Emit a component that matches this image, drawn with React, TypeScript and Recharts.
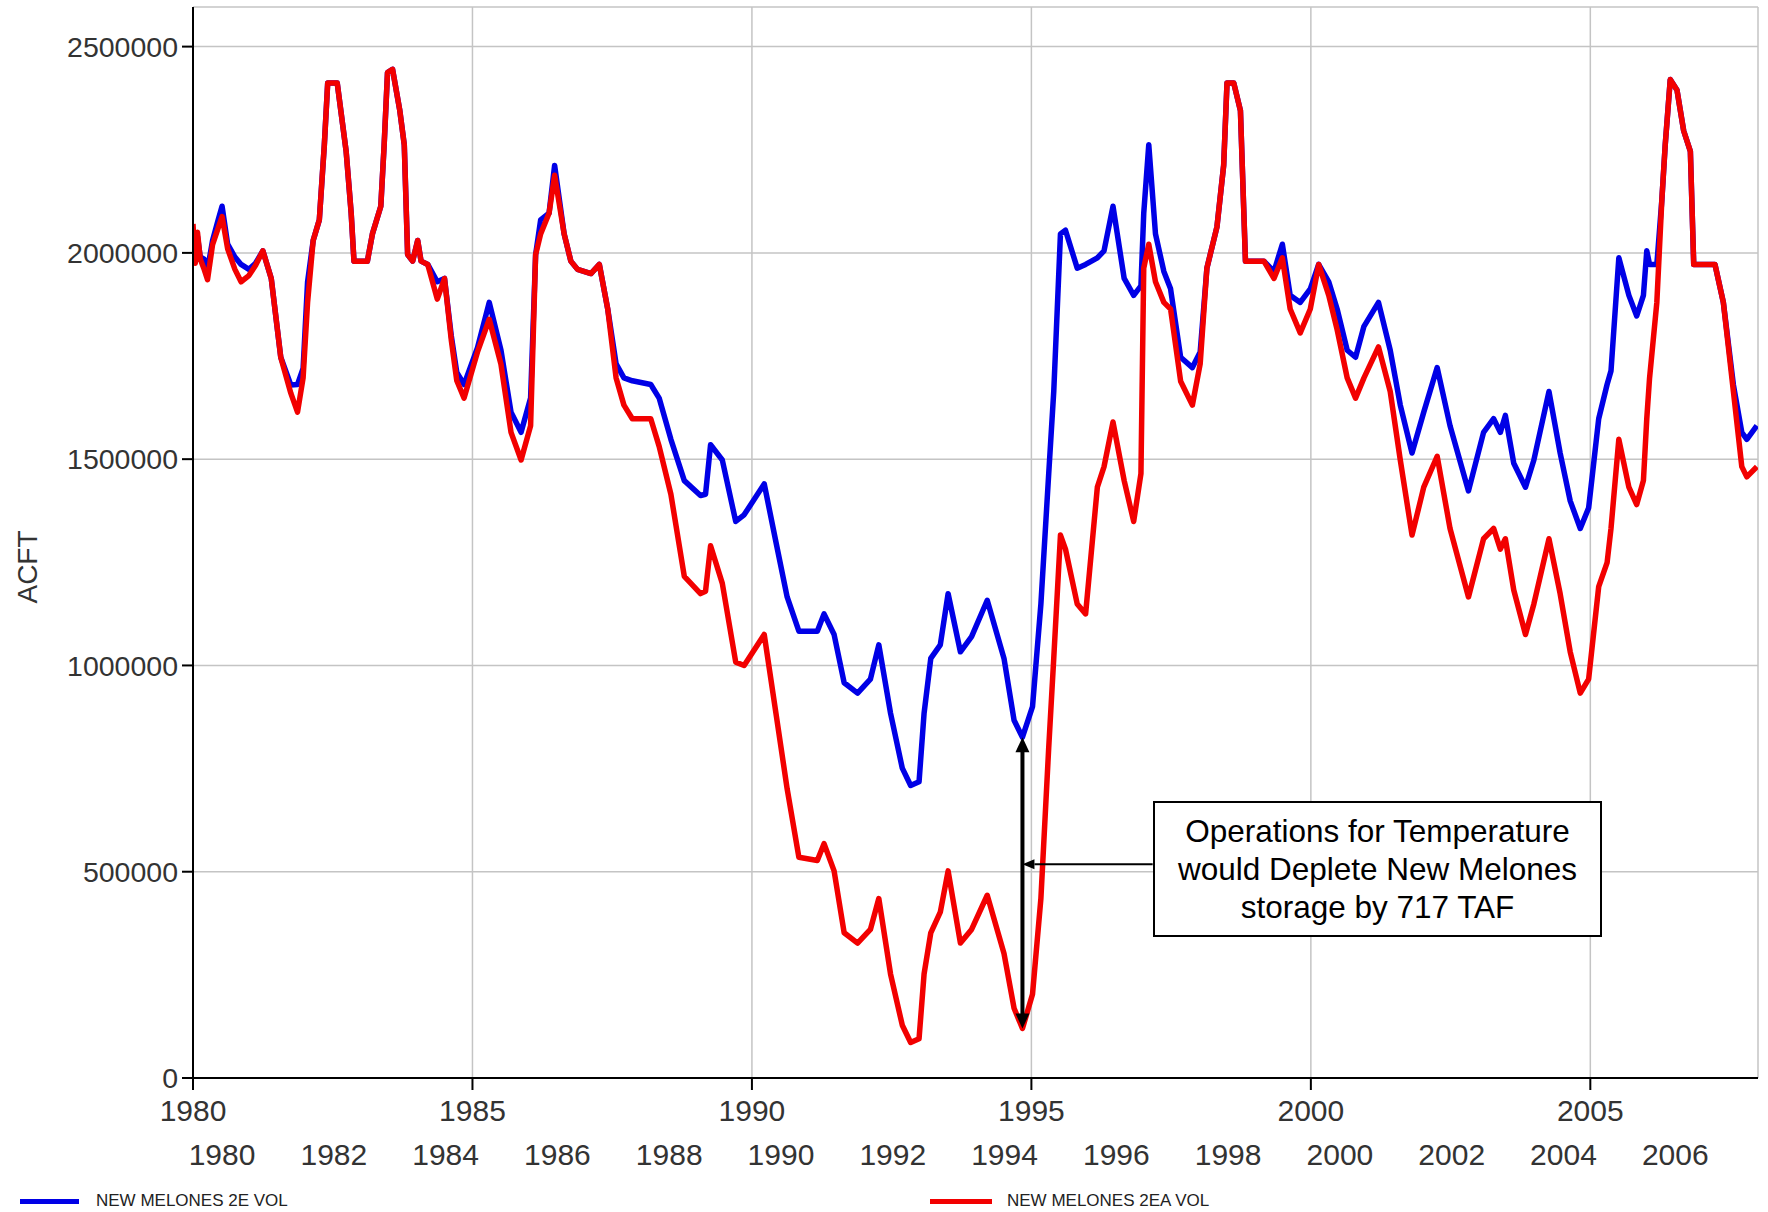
import React from 'react';
import { LineChart, Line, XAxis, YAxis, CartesianGrid, ReferenceLine, Label } from 'recharts';

const W = 1768;
const H = 1212;

const SERIES_NAMES = ['NEW MELONES 2E VOL', 'NEW MELONES 2EA VOL'];
const MAJOR_YEARS = [1980, 1985, 1990, 1995, 2000, 2005];
const LABEL_YEARS = [1980, 1982, 1984, 1986, 1988, 1990, 1992, 1994, 1996, 1998, 2000, 2002, 2004, 2006];
const LABEL_SHIFT = 0.52;
const Y_TICKS = [0, 500000, 1000000, 1500000, 2000000, 2500000];
const Y_MAX = 2596000;

const YEARS = [
  1980.0, 1980.04, 1980.08, 1980.13, 1980.2, 1980.26, 1980.35, 1980.45, 1980.52, 1980.62, 1980.75, 1980.86,
  1981.0, 1981.12, 1981.25, 1981.4, 1981.57, 1981.75, 1981.87, 1981.97, 1982.05, 1982.15, 1982.26, 1982.35,
  1982.41, 1982.58, 1982.74, 1982.83, 1982.88, 1983.12, 1983.21, 1983.36, 1983.42, 1983.48, 1983.57, 1983.7,
  1983.78, 1983.84, 1983.93, 1984.02, 1984.08, 1984.2, 1984.37, 1984.5, 1984.62, 1984.72, 1984.85, 1985.09,
  1985.3, 1985.51, 1985.69, 1985.87, 1986.04, 1986.13, 1986.22, 1986.37, 1986.47, 1986.64, 1986.76, 1986.88,
  1987.12, 1987.27, 1987.42, 1987.57, 1987.71, 1987.86, 1988.19, 1988.34, 1988.55, 1988.79, 1989.08, 1989.17,
  1989.26, 1989.47, 1989.71, 1989.86, 1990.22, 1990.43, 1990.63, 1990.84, 1991.17, 1991.29, 1991.47, 1991.65,
  1991.89, 1992.12, 1992.27, 1992.48, 1992.69, 1992.84, 1992.99, 1993.08, 1993.2, 1993.37, 1993.51, 1993.73,
  1993.93, 1994.21, 1994.51, 1994.69, 1994.84, 1995.02, 1995.17, 1995.31, 1995.4, 1995.52, 1995.61, 1995.82,
  1995.97, 1996.18, 1996.3, 1996.46, 1996.66, 1996.83, 1996.96, 1997.01, 1997.1, 1997.22, 1997.37, 1997.49,
  1997.67, 1997.88, 1998.02, 1998.14, 1998.32, 1998.44, 1998.5, 1998.62, 1998.74, 1998.83, 1999.16, 1999.34,
  1999.49, 1999.63, 1999.81, 1999.99, 2000.14, 2000.32, 2000.47, 2000.65, 2000.8, 2000.95, 2001.21, 2001.42,
  2001.6, 2001.81, 2002.02, 2002.26, 2002.49, 2002.82, 2003.09, 2003.27, 2003.39, 2003.48, 2003.63, 2003.84,
  2003.99, 2004.26, 2004.46, 2004.64, 2004.82, 2004.97, 2005.15, 2005.3, 2005.37, 2005.51, 2005.69, 2005.83,
  2005.95, 2006.01, 2006.06, 2006.19, 2006.28, 2006.34, 2006.43, 2006.55, 2006.67, 2006.79, 2006.85, 2007.23,
  2007.38, 2007.56, 2007.71, 2007.8, 2007.98,
];

const BLUE_VOL = [
  2060000, 2000000, 2040000, 1990000, 1985000, 1960000, 2030000, 2080000, 2113000, 2021000, 1990000, 1972000,
  1960000, 1975000, 2005000, 1938000, 1747000, 1680000, 1681000, 1720000, 1930000, 2030000, 2080000, 2262000,
  2412000, 2412000, 2246000, 2096000, 1980000, 1980000, 2046000, 2113000, 2262000, 2437000, 2445000, 2345000,
  2262000, 1996000, 1980000, 2030000, 1980000, 1972000, 1930000, 1938000, 1800000, 1710000, 1681000, 1770000,
  1880000, 1764000, 1614000, 1565000, 1648000, 1996000, 2080000, 2096000, 2212000, 2046000, 1980000, 1960000,
  1950000, 1972000, 1864000, 1731000, 1697000, 1690000, 1681000, 1648000, 1548000, 1448000, 1412000, 1415000,
  1535000, 1498000, 1349000, 1365000, 1440000, 1299000, 1166000, 1083000, 1083000, 1125000, 1075000, 958000,
  933000, 967000, 1050000, 884000, 751000, 709000, 718000, 884000, 1017000, 1050000, 1174000, 1033000,
  1070000, 1158000, 1017000, 867000, 826000, 900000, 1149000, 1465000, 1664000, 2046000, 2055000, 1963000,
  1972000, 1988000, 2005000, 2113000, 1938000, 1897000, 1920000, 2096000, 2262000, 2046000, 1955000, 1913000,
  1747000, 1722000, 1760000, 1963000, 2063000, 2212000, 2412000, 2412000, 2345000, 1980000, 1980000, 1955000,
  2021000, 1897000, 1880000, 1913000, 1972000, 1930000, 1864000, 1764000, 1747000, 1822000, 1880000, 1764000,
  1631000, 1515000, 1614000, 1722000, 1581000, 1423000, 1565000, 1598000, 1565000, 1606000, 1490000, 1432000,
  1498000, 1664000, 1515000, 1399000, 1332000, 1382000, 1598000, 1681000, 1714000, 1988000, 1897000, 1847000,
  1897000, 2005000, 1972000, 1972000, 2129000, 2262000, 2420000, 2395000, 2296000, 2246000, 1972000, 1972000,
  1880000, 1680000, 1565000, 1548000, 1581000,
];

const RED_VOL = [
  2070000, 1975000, 2050000, 1985000, 1960000, 1935000, 2020000, 2060000, 2088000, 2010000, 1960000, 1930000,
  1945000, 1970000, 2005000, 1938000, 1747000, 1660000, 1614000, 1697000, 1880000, 2030000, 2080000, 2262000,
  2412000, 2412000, 2246000, 2096000, 1980000, 1980000, 2046000, 2113000, 2262000, 2437000, 2445000, 2345000,
  2262000, 1996000, 1980000, 2030000, 1980000, 1972000, 1888000, 1938000, 1790000, 1690000, 1648000, 1760000,
  1839000, 1730000, 1565000, 1498000, 1581000, 1996000, 2046000, 2096000, 2188000, 2046000, 1980000, 1960000,
  1950000, 1972000, 1864000, 1697000, 1631000, 1598000, 1598000, 1531000, 1415000, 1216000, 1174000, 1180000,
  1290000, 1199000, 1008000, 1000000, 1075000, 884000, 701000, 535000, 527000, 568000, 502000, 352000,
  327000, 360000, 435000, 252000, 128000, 86000, 95000, 252000, 352000, 402000, 502000, 327000,
  360000, 443000, 302000, 169000, 120000, 203000, 435000, 801000, 1017000, 1316000, 1282000, 1149000,
  1125000, 1432000, 1482000, 1590000, 1448000, 1349000, 1465000, 1963000, 2021000, 1930000, 1880000, 1864000,
  1689000, 1631000, 1731000, 1963000, 2063000, 2212000, 2412000, 2412000, 2345000, 1980000, 1980000, 1938000,
  1988000, 1864000, 1806000, 1864000, 1972000, 1897000, 1814000, 1697000, 1648000, 1697000, 1772000, 1664000,
  1498000, 1316000, 1432000, 1507000, 1332000, 1166000, 1307000, 1332000, 1282000, 1307000, 1183000, 1075000,
  1149000, 1307000, 1174000, 1033000, 933000, 967000, 1191000, 1249000, 1332000, 1548000, 1432000, 1390000,
  1448000, 1598000, 1697000, 1880000, 2129000, 2262000, 2420000, 2395000, 2296000, 2246000, 1972000, 1972000,
  1880000, 1664000, 1482000, 1457000, 1482000,
];

const ANNOT_YEAR = 1994.84;
const ANNOT_BLUE = 826000;
const ANNOT_RED = 120000;
const POINTER_VALUE = 518000;
const BOX_LEFT_YEAR = 1997.17;
const ANNOT_TEXT = ['Operations for Temperature', 'would Deplete New Melones', 'storage by 717 TAF'];

const data = YEARS.map((t, i) => ({ t, blue: BLUE_VOL[i], red: RED_VOL[i] }));

const BLUE = '#0000e6';
const RED = '#f20000';
const FONT = '"Liberation Sans", Arial, sans-serif';

const VArrow = (p: any) => {
  const { x1, y1, x2, y2 } = p;
  const top = Math.min(y1, y2);
  const bot = Math.max(y1, y2);
  const h = 15;
  const w = 7;
  return (
    <g>
      <line x1={x1} y1={top + h - 2} x2={x2} y2={bot - h + 2} stroke="#000" strokeWidth={4} />
      <polygon points={`${x1},${top} ${x1 - w},${top + h} ${x1 + w},${top + h}`} fill="#000" />
      <polygon points={`${x1},${bot} ${x1 - w},${bot - h} ${x1 + w},${bot - h}`} fill="#000" />
    </g>
  );
};

const HArrow = (p: any) => {
  const { x1, y1, x2 } = p;
  const left = Math.min(x1, x2);
  const right = Math.max(x1, x2);
  const h = 12;
  const w = 5;
  return (
    <g>
      <line x1={left + h} y1={y1} x2={right} y2={y1} stroke="#000" strokeWidth={2} />
      <polygon points={`${left},${y1} ${left + h},${y1 - w} ${left + h},${y1 + w}`} fill="#000" />
    </g>
  );
};

const AcftLabel = () => (
  <text
    x={27}
    y={567}
    transform="rotate(-90, 27, 567)"
    textAnchor="middle"
    dominantBaseline="central"
    fontSize={28}
    fill="#333"
    fontFamily={FONT}
  >
    ACFT
  </text>
);

export default function App() {
  const tickStyle = { fontSize: 30, fill: '#333', fontFamily: FONT };
  return (
    <div
      style={{
        position: 'absolute',
        left: 0,
        top: 0,
        width: W,
        height: H,
        background: '#fff',
        fontFamily: FONT,
        overflow: 'hidden',
      }}
    >
      <LineChart width={W} height={H} data={data} margin={{ top: 7, right: 10, left: 0, bottom: 34 }}>
        <CartesianGrid stroke="#c4c4c4" strokeWidth={1.5} />
        <XAxis
          dataKey="t"
          type="number"
          domain={[1980, 2008]}
          ticks={MAJOR_YEARS}
          interval={0}
          allowDataOverflow
          tick={tickStyle}
          tickSize={12}
          tickMargin={10}
          height={60}
          axisLine={{ stroke: '#000', strokeWidth: 2 }}
          tickLine={{ stroke: '#000', strokeWidth: 2 }}
        />
        <XAxis
          xAxisId="b"
          dataKey="t"
          type="number"
          domain={[1980, 2008]}
          ticks={LABEL_YEARS.map((y) => y + LABEL_SHIFT)}
          tickFormatter={(v: number) => String(Math.round(v - LABEL_SHIFT))}
          interval={0}
          allowDataOverflow
          tick={tickStyle}
          tickSize={0}
          tickMargin={6}
          height={40}
          axisLine={false}
          tickLine={false}
        />
        <XAxis
          xAxisId="top"
          orientation="top"
          dataKey="t"
          type="number"
          domain={[1980, 2008]}
          height={0}
          tick={false}
          tickLine={false}
          axisLine={{ stroke: '#000', strokeWidth: 2 }}
        />
        <YAxis
          type="number"
          domain={[0, Y_MAX]}
          ticks={Y_TICKS}
          interval={0}
          allowDataOverflow
          width={193}
          tickSize={11}
          tickMargin={4}
          tick={{ fontSize: 28.5, fill: '#333', fontFamily: FONT }}
          axisLine={{ stroke: '#000', strokeWidth: 2 }}
          tickLine={{ stroke: '#000', strokeWidth: 2 }}
        >
          <Label content={<AcftLabel />} />
        </YAxis>
        <YAxis
          yAxisId="right"
          orientation="right"
          type="number"
          domain={[0, Y_MAX]}
          width={0}
          tick={false}
          tickLine={false}
          axisLine={{ stroke: '#000', strokeWidth: 2 }}
        />
        <Line
          dataKey="blue"
          name={SERIES_NAMES[0]}
          type="linear"
          stroke={BLUE}
          strokeWidth={5.5}
          dot={false}
          strokeLinejoin="round"
          isAnimationActive={false}
        />
        <Line
          dataKey="red"
          name={SERIES_NAMES[1]}
          type="linear"
          stroke={RED}
          strokeWidth={5.5}
          dot={false}
          strokeLinejoin="round"
          isAnimationActive={false}
        />
        <ReferenceLine
          segment={[
            { x: ANNOT_YEAR, y: ANNOT_BLUE },
            { x: ANNOT_YEAR, y: ANNOT_RED },
          ]}
          shape={VArrow}
        />
        <ReferenceLine
          segment={[
            { x: BOX_LEFT_YEAR, y: POINTER_VALUE },
            { x: ANNOT_YEAR, y: POINTER_VALUE },
          ]}
          shape={HArrow}
        />
      </LineChart>

      <div
        style={{
          position: 'absolute',
          left: 1153,
          top: 801,
          width: 449,
          height: 136,
          boxSizing: 'border-box',
          border: '2px solid #000',
          background: '#fff',
          display: 'flex',
          flexDirection: 'column',
          alignItems: 'center',
          justifyContent: 'center',
          fontSize: 31.5,
          lineHeight: '38px',
          color: '#000',
          textAlign: 'center',
        }}
      >
        {ANNOT_TEXT.map((s) => (
          <div key={s}>{s}</div>
        ))}
      </div>

      {[
        { name: SERIES_NAMES[0], color: BLUE, lx: 20, lw: 59, tx: 96 },
        { name: SERIES_NAMES[1], color: RED, lx: 930, lw: 62, tx: 1007 },
      ].map((it) => (
        <React.Fragment key={it.name}>
          <div
            style={{
              position: 'absolute',
              left: it.lx,
              top: 1199,
              width: it.lw,
              height: 5,
              background: it.color,
            }}
          />
          <div
            style={{
              position: 'absolute',
              left: it.tx,
              top: 1191,
              fontSize: 17,
              lineHeight: '20px',
              color: '#222',
              whiteSpace: 'nowrap',
            }}
          >
            {it.name}
          </div>
        </React.Fragment>
      ))}
    </div>
  );
}
